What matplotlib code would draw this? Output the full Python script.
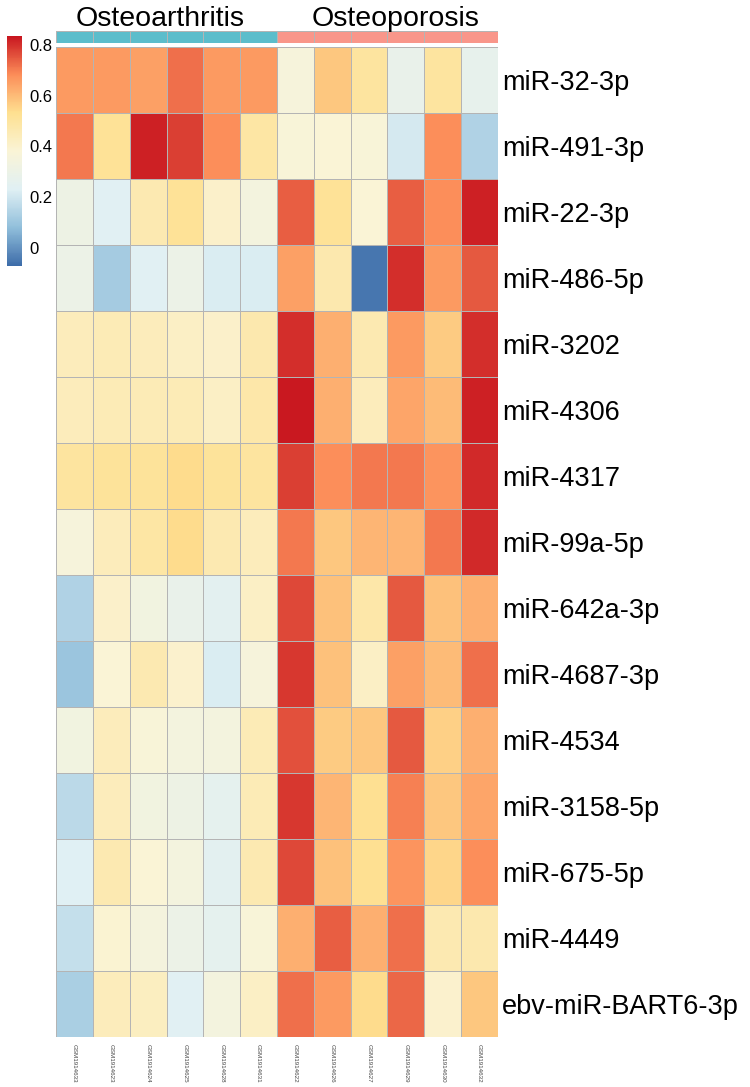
import numpy as np
import matplotlib
matplotlib.use("Agg")
import matplotlib.pyplot as plt
from matplotlib.colors import LinearSegmentedColormap, ListedColormap

plt.rcParams['font.family'] = ['Liberation Sans', 'DejaVu Sans']

samples = ["GSM1914633", "GSM1914623", "GSM1914624", "GSM1914625", "GSM1914628", "GSM1914631",
           "GSM1914622", "GSM1914626", "GSM1914627", "GSM1914629", "GSM1914630", "GSM1914632"]
groups = ["Osteoarthritis"] * 6 + ["Osteoporosis"] * 6
group_names = ["Osteoarthritis", "Osteoporosis"]

mirnas = ["miR-32-3p", "miR-491-3p", "miR-22-3p", "miR-486-5p", "miR-3202", "miR-4306",
          "miR-4317", "miR-99a-5p", "miR-642a-3p", "miR-4687-3p", "miR-4534", "miR-3158-5p",
          "miR-675-5p", "miR-4449", "ebv-miR-BART6-3p"]

values = [
    [0.66, 0.66, 0.65, 0.72, 0.66, 0.66, 0.36, 0.58, 0.50, 0.28, 0.50, 0.27],
    [0.71, 0.52, 0.82, 0.78, 0.68, 0.49, 0.37, 0.38, 0.37, 0.21, 0.68, 0.14],
    [0.31, 0.24, 0.46, 0.52, 0.41, 0.34, 0.74, 0.52, 0.38, 0.74, 0.68, 0.82],
    [0.30, 0.12, 0.24, 0.30, 0.22, 0.22, 0.65, 0.47, -0.05, 0.80, 0.66, 0.75],
    [0.44, 0.45, 0.44, 0.42, 0.41, 0.47, 0.80, 0.62, 0.46, 0.66, 0.57, 0.80],
    [0.44, 0.45, 0.45, 0.45, 0.42, 0.48, 0.83, 0.62, 0.44, 0.64, 0.60, 0.82],
    [0.50, 0.51, 0.51, 0.54, 0.51, 0.50, 0.78, 0.68, 0.71, 0.71, 0.67, 0.81],
    [0.36, 0.44, 0.49, 0.54, 0.46, 0.44, 0.71, 0.58, 0.61, 0.61, 0.71, 0.81],
    [0.14, 0.41, 0.33, 0.28, 0.25, 0.42, 0.77, 0.59, 0.48, 0.75, 0.59, 0.62],
    [0.10, 0.38, 0.46, 0.40, 0.22, 0.36, 0.79, 0.59, 0.42, 0.65, 0.60, 0.72],
    [0.33, 0.44, 0.37, 0.34, 0.34, 0.45, 0.76, 0.57, 0.58, 0.75, 0.56, 0.62],
    [0.16, 0.44, 0.33, 0.31, 0.26, 0.45, 0.79, 0.61, 0.53, 0.70, 0.58, 0.64],
    [0.23, 0.46, 0.38, 0.34, 0.25, 0.46, 0.77, 0.59, 0.53, 0.67, 0.55, 0.68],
    [0.18, 0.39, 0.35, 0.30, 0.26, 0.37, 0.62, 0.74, 0.62, 0.72, 0.46, 0.47],
    [0.13, 0.44, 0.43, 0.24, 0.34, 0.42, 0.72, 0.66, 0.54, 0.73, 0.40, 0.58],
]

W, H = 750, 1087
fig = plt.figure(figsize=(W / 100, H / 100), dpi=100)

def px_axes(x, y, w, h):
    return fig.add_axes([x / W, 1 - (y + h) / H, w / W, h / H])

cmap = LinearSegmentedColormap.from_list(
    "rdylbu", ["#3d6ca9", "#91bfdb", "#e0f0f4", "#faf4d6", "#fee090", "#fc8d59", "#c8151f"])
vmin, vmax = -0.071, 0.835

# heatmap
ax = px_axes(56, 47, 442, 990)
data = np.array(values)
mesh = ax.pcolormesh(data, cmap=cmap, vmin=vmin, vmax=vmax,
                     edgecolors="#b4b4b4", linewidth=0.5)
ax.set_xlim(0, len(samples))
ax.set_ylim(len(mirnas), 0)
ax.set_yticks(np.arange(len(mirnas)) + 0.5)
ax.set_yticklabels(mirnas, fontsize=19.5)
ax.yaxis.tick_right()
ax.tick_params(axis='y', length=0, pad=3)
ax.set_xticks(np.arange(len(samples)) + 0.5)
ax.set_xticklabels(samples, rotation=-90, fontsize=4.5, color="#444444")
ax.tick_params(axis='x', length=0, pad=5)
for s in ax.spines.values():
    s.set_visible(False)

# group annotation bar
ax_a = px_axes(56, 31, 442, 12)
gcodes = np.array([[group_names.index(g) for g in groups]])
ax_a.pcolormesh(gcodes, cmap=ListedColormap(["#5cbdcb", "#f9968a"]), vmin=0, vmax=1,
                edgecolors="#b4b4b4", linewidth=0.5)
ax_a.set_xlim(0, len(samples))
ax_a.axis('off')

# group titles
fig.text(160 / W, 1 - 26 / H, group_names[0], fontsize=20.5, ha='center', va='baseline')
fig.text(396 / W, 1 - 26 / H, group_names[1], fontsize=20.5, ha='center', va='baseline')

# colorbar
cax = px_axes(7, 36, 15, 230)
cb = fig.colorbar(mesh, cax=cax, ticks=[0, 0.2, 0.4, 0.6, 0.8])
cb.outline.set_visible(False)
cb.ax.tick_params(length=0, labelsize=12, pad=5)
cb.ax.set_yticklabels(["0", "0.2", "0.4", "0.6", "0.8"])

fig.savefig("out.png", dpi=100)
